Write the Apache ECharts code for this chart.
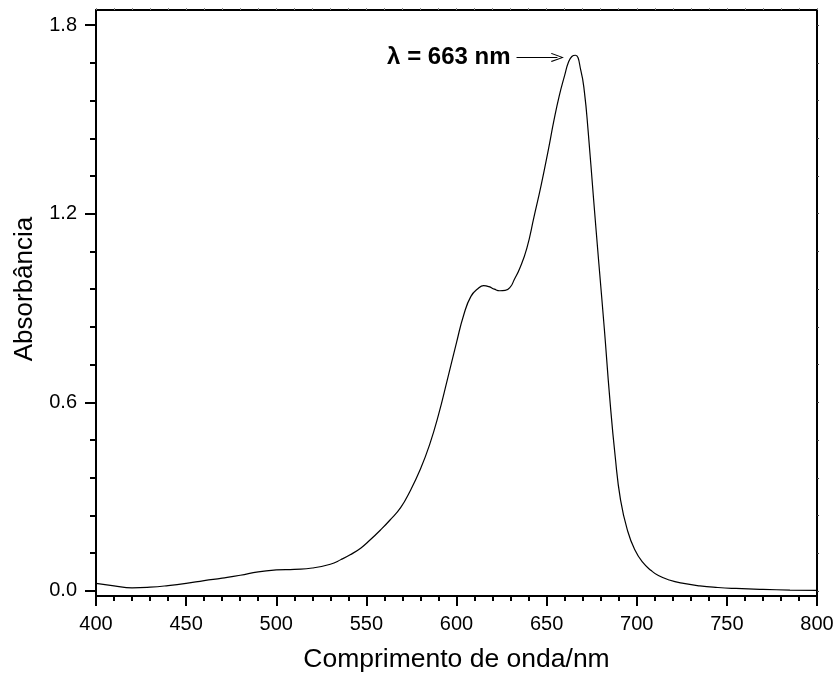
<!DOCTYPE html>
<html>
<head>
<meta charset="utf-8">
<script src="https://cdn.jsdelivr.net/npm/echarts@6/dist/echarts.min.js"></script>
<style>html,body{margin:0;padding:0;background:#fff;}#chart{width:837px;height:681px;}</style>
</head>
<body>
<div id="chart"></div>
<script>
const wavelengths = [400,410,420,430,440,450,460,470,480,490,500,510,520,530,536,541,547,552,558,563,569,574,580,585,590,595,600,604,608,612,615,618,621,624,627,630,632,635,639,643,647,651,654,657,660,662,664,666,669,671,673,676,679,682,685,688,691,695,699,703,708,712,718,726,735,745,755,770,785,800];
const absorbance = [0.024,0.016,0.010,0.012,0.017,0.024,0.033,0.041,0.050,0.061,0.067,0.069,0.073,0.085,0.100,0.115,0.137,0.162,0.195,0.225,0.265,0.315,0.388,0.464,0.560,0.674,0.790,0.878,0.937,0.962,0.971,0.968,0.960,0.955,0.956,0.968,0.990,1.025,1.090,1.190,1.292,1.405,1.495,1.575,1.640,1.680,1.700,1.704,1.655,1.585,1.465,1.250,1.040,0.835,0.615,0.430,0.290,0.190,0.130,0.093,0.065,0.049,0.035,0.024,0.016,0.011,0.008,0.005,0.003,0.002];
const yMajorTicks = [0, 0.6, 1.2, 1.8];
const yMinorTicks = [0.12,0.24,0.36,0.48,0.72,0.84,0.96,1.08,1.32,1.44,1.56,1.68];
const xTitle = 'Comprimento de onda/nm';
const yTitle = 'Absorbância';
const peakLabel = 'λ = 663 nm';

const FONT = 'Liberation Sans, Arial, Helvetica, sans-serif';
const data = wavelengths.map((w, i) => [w, absorbance[i]]);
const YMIN = -0.016, YMAX = 1.848;

const chart = echarts.init(document.getElementById('chart'), null, {renderer: 'canvas'});
const lineStyle = {color: '#000', width: 2};
chart.setOption({
  animation: false,
  backgroundColor: '#fff',
  grid: {left: 96, right: 20, top: 10, bottom: 85, containLabel: false, outerBoundsMode: 'none'},
  xAxis: [
    {
      type: 'value', min: 400, max: 800, interval: 50, position: 'bottom',
      name: xTitle, nameLocation: 'middle', nameGap: 50,
      nameTextStyle: {fontFamily: FONT, fontSize: 26.5, color: '#000'},
      axisLine: {show: true, onZero: false, lineStyle: lineStyle},
      axisTick: {show: true, inside: false, length: 10, lineStyle: lineStyle},
      minorTick: {show: true, splitNumber: 5, length: 5, lineStyle: lineStyle},
      axisLabel: {fontFamily: FONT, fontSize: 20, color: '#000', margin: 18, showMinLabel: true, showMaxLabel: true},
      splitLine: {show: false}
    },
    {
      type: 'value', min: 400, max: 800, interval: 50, position: 'top',
      axisLine: {show: true, onZero: false, lineStyle: lineStyle},
      axisTick: {show: true, length: 2, lineStyle: {color: '#888', width: 1}},
      minorTick: {show: true, splitNumber: 5, length: 2, lineStyle: {color: '#888', width: 1}},
      axisLabel: {show: false},
      splitLine: {show: false}
    }
  ],
  yAxis: [
    {
      type: 'value', min: YMIN, max: YMAX, position: 'left', offset: 0,
      name: yTitle, nameLocation: 'middle', nameGap: 58, nameRotate: 90,
      nameTextStyle: {fontFamily: FONT, fontSize: 26, color: '#000', padding: [0, 0, 0, 28]},
      axisLine: {show: true, onZero: false, lineStyle: lineStyle},
      axisTick: {show: true, length: 11, customValues: yMajorTicks, lineStyle: lineStyle},
      axisLabel: {fontFamily: FONT, fontSize: 20, color: '#000', margin: 19, customValues: yMajorTicks,
        formatter: v => v.toFixed(1)},
      splitLine: {show: false}
    },
    {
      type: 'value', min: YMIN, max: YMAX, position: 'left', offset: 0,
      axisLine: {show: false},
      axisTick: {show: true, length: 6, customValues: yMinorTicks, lineStyle: lineStyle},
      axisLabel: {show: false},
      splitLine: {show: false}
    },
    {
      type: 'value', min: YMIN, max: YMAX, position: 'right', offset: 0,
      axisLine: {show: true, onZero: false, lineStyle: lineStyle},
      axisTick: {show: true, length: 2, customValues: yMajorTicks.concat(yMinorTicks), lineStyle: {color: '#444', width: 1}},
      axisLabel: {show: false},
      splitLine: {show: false}
    }
  ],
  series: [{
    type: 'line',
    data: data,
    xAxisIndex: 0, yAxisIndex: 0,
    showSymbol: false,
    smooth: 0.5,
    lineStyle: {color: '#000', width: 1.2},
    z: 3,
    markLine: {
      silent: true,
      animation: false,
      symbol: ['none', 'path://M0,10 L5,0 L10,10 L9,10.6 L5,2.2 L1,10.6 Z'],
      symbolSize: [9, 13],
      lineStyle: {color: '#000', width: 1.2, type: 'solid'},
      label: {show: true, position: 'start', distance: 6, formatter: peakLabel,
        fontFamily: FONT, fontSize: 24, fontWeight: 'bold', color: '#000'},
      data: [[{coord: [633.3, 1.697]}, {coord: [656, 1.697]}]]
    }
  }]
});
</script>
</body>
</html>
